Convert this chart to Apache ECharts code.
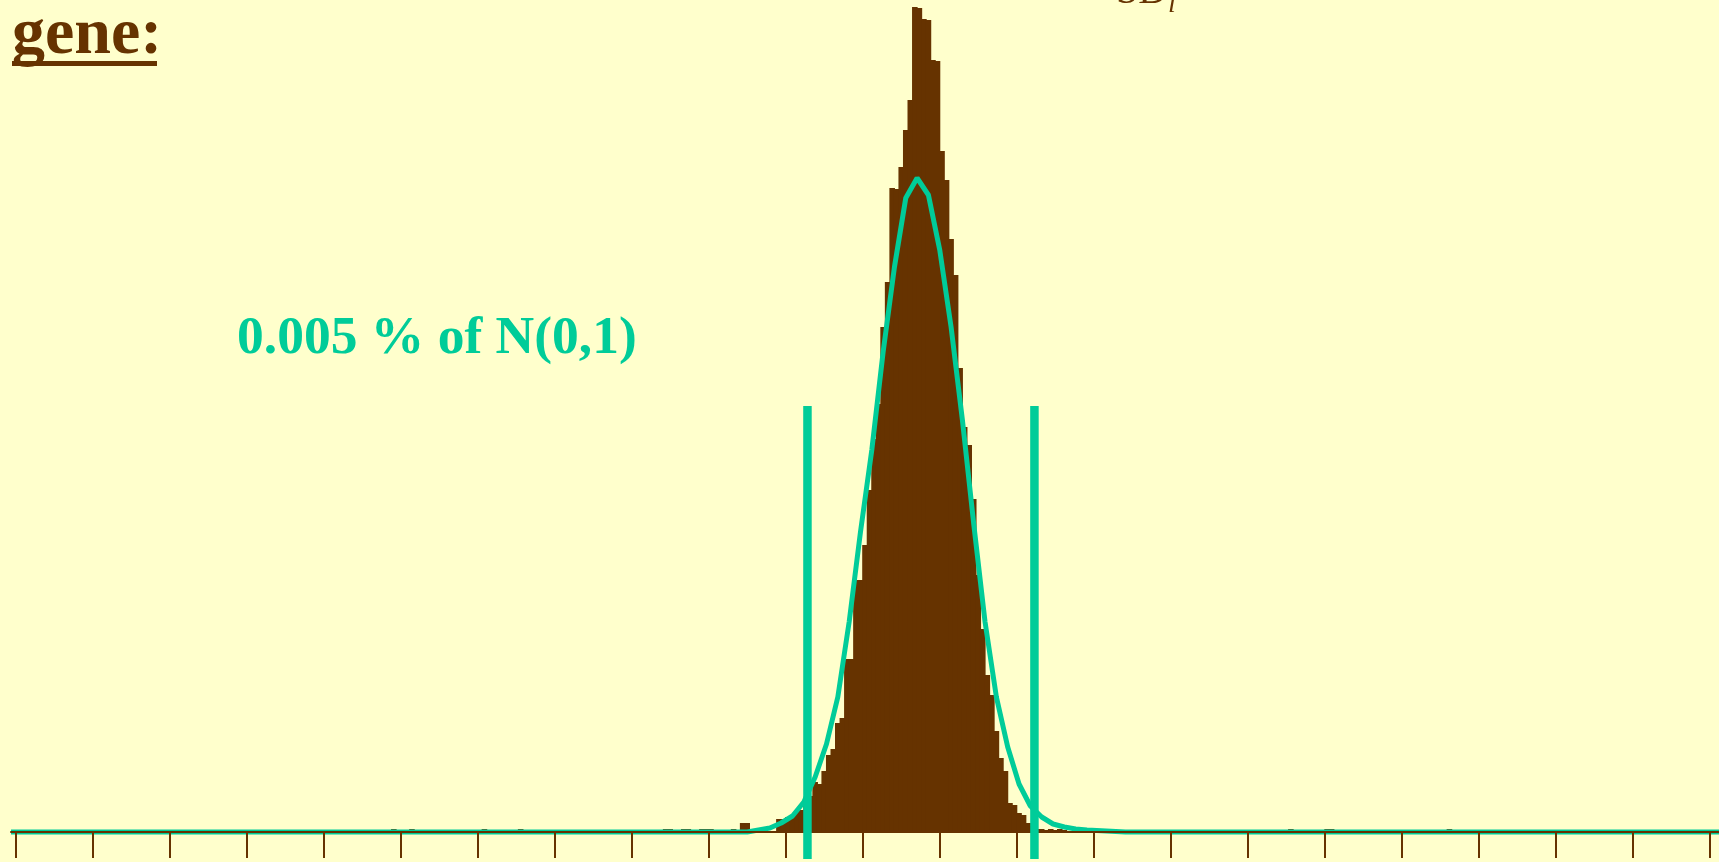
<!DOCTYPE html>
<html>
<head>
<meta charset="utf-8">
<script src="https://cdn.jsdelivr.net/npm/echarts@6/dist/echarts.min.js"></script>
<style>
  html, body { margin: 0; padding: 0; background: #FFFFCC; }
  #chart { width: 1719px; height: 862px; }
</style>
</head>
<body>
<div id="chart"></div>
<script>
// ---- Data (x measured in histogram-bin units; one axis tick every 17 bins) ----
const tickValues = [0,17,34,51,68,85,102,119,136,153,170,187,204,221,238,255,272,289,306,323,340,357,374];

// histogram: bin index (left edge) and bar height
const histBins = [83,87,103,104,111,143,144,147,148,151,152,153,158,
  160,161,162,163,164,165,166,167,168,169,170,171,172,173,174,175,176,177,178,179,
  180,181,182,183,184,185,186,187,188,189,190,191,192,193,194,195,196,197,198,199,
  200,201,202,203,204,205,206,207,208,209,210,211,212,213,214,215,216,217,218,219,
  220,221,222,223,224,225,226,227,228,229,230,231,232,234,235,
  240,246,252,281,289,290,293,316];
const histCounts = [3,3,3,2,3,3,3,3,3,3,3,3,3,
  9,9,3,1,1,1,1,1,13,13,15,15,20,22,26,36,50,48,61,77,
  83,109,114,173,173,252,252,287,342,393,428,505,550,644,643,665,702,732,825,824,
  813,812,772,771,681,652,593,557,464,405,387,333,257,203,157,137,101,74,61,29,
  27,19,17,9,6,3,3,2,3,2,3,2,1,2,2,
  2,2,2,3,3,3,2,3];

// fitted N(0,1) curve as drawn (polyline vertices)
const curveX = [-1,161.5,166.5,169,171.5,174,176.5,179,181.5,184,186.5,189,191.5,194,196.5,199,
  201.5,204,206.5,209,211.5,214,216.5,219,221.5,224,226.5,229,231.5,234,236.5,245,376];
const curveY = [0,0,4,9,16,30,55,88,135,210,300,382,480,565,634,654,
  637,582,505,412,308,210,135,85,48,26,15,8,5,3,2,0,0];

// the two cut-off lines
const cutX = [174.8, 224.9];
const cutTop = 426;
const cutBottom = -27;

// texts
const headText = 'gene:';
const noteText = '0.005 % of N(0,1)';
const formulaMain = 'SD';
const formulaSub = 'i';

const BROWN = '#663300';
const CYAN = '#00CC99';

const chart = echarts.init(document.getElementById('chart'), null, { renderer: 'canvas' });

const cutSeries = cutX.map(x => ({
  type: 'line',
  data: [[x, cutBottom], [x, cutTop]],
  symbol: 'none',
  clip: false,
  z: 6,
  lineStyle: { color: CYAN, width: 8.5, cap: 'butt' },
  silent: true
}));

const option = {
  backgroundColor: '#FFFFCC',
  animation: false,
  grid: { left: 11, right: 0, top: 0, bottom: 30 },
  xAxis: {
    type: 'value',
    min: -1,
    max: 376,
    z: 4,
    axisLine: { show: true, onZero: false, lineStyle: { color: BROWN, width: 2 } },
    axisTick: { show: true, customValues: tickValues, length: 26, lineStyle: { color: BROWN, width: 2 } },
    axisLabel: { show: false },
    splitLine: { show: false }
  },
  yAxis: { type: 'value', min: 0, max: 832, show: false },
  series: [
    {
      type: 'bar',
      data: histBins.map((b, i) => [b + 0.5, histCounts[i]]),
      barWidth: 5.6,
      itemStyle: { color: BROWN },
      z: 2,
      silent: true
    },
    {
      type: 'line',
      data: curveX.map((x, i) => [x, curveY[i]]),
      symbol: 'none',
      clip: false,
      z: 3,
      lineStyle: { color: CYAN, width: 5 },
      silent: true
    },
    ...cutSeries
  ],
  graphic: [
    {
      type: 'text', x: 12, y: 36, z: 10,
      style: { text: headText, fill: BROWN, font: 'bold 66px "Liberation Serif", serif', verticalAlign: 'middle' }
    },
    {
      type: 'rect', z: 10,
      shape: { x: 12, y: 61, width: 145, height: 5 },
      style: { fill: BROWN }
    },
    {
      type: 'text', z: 10,
      x: 237, y: 339,
      style: { text: noteText, fill: CYAN, font: 'bold 53.5px "Liberation Serif", serif', verticalAlign: 'middle' }
    },
    {
      type: 'text', z: 10,
      x: 1116, y: -8,
      style: { text: formulaMain, fill: BROWN, font: '40px "Liberation Serif", serif', verticalAlign: 'middle' }
    },
    {
      type: 'text', z: 10,
      x: 1168, y: 5,
      style: { text: formulaSub, fill: BROWN, font: 'italic 28px "Liberation Serif", serif', verticalAlign: 'middle' }
    }
  ]
};

chart.setOption(option);
</script>
</body>
</html>
